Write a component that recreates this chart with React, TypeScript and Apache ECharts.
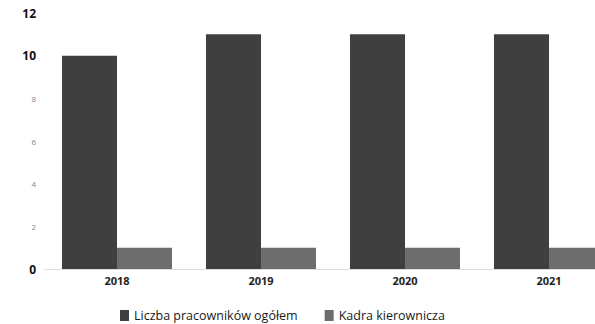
import React, { useEffect, useRef } from "react";
import * as echarts from "echarts";

const categories = ["2018", "2019", "2020", "2021"];
const totalEmployees = [10, 11, 11, 11];
const management = [1, 1, 1, 1];
const seriesNames = ["Liczba pracowników ogółem", "Kadra kierownicza"];

export default function App() {
  const ref = useRef<HTMLDivElement>(null);
  useEffect(() => {
    document.body.style.margin = "0";
    const chart = echarts.init(ref.current!, null, { renderer: "svg" });
    chart.setOption({
      animation: false,
      backgroundColor: "#ffffff",
      textStyle: { fontFamily: "Open Sans" },
      grid: {
        left: 45,
        top: 13,
        right: -26,
        bottom: 55,
        containLabel: false,
        outerBoundsMode: "none",
      },
      legend: {
        top: 304,
        left: 115,
        itemWidth: 9,
        itemHeight: 11,
        itemGap: 27,
        icon: "rect",
        textStyle: { fontSize: 12.5, color: "#1a1a1a", fontFamily: "Open Sans" },
        data: seriesNames,
      },
      xAxis: {
        type: "category",
        data: categories,
        axisLine: { show: true, lineStyle: { color: "#dddddd" } },
        axisTick: { show: false },
        axisLabel: { fontSize: 11, color: "#222", fontWeight: "bold", margin: 6 },
      },
      yAxis: {
        type: "value",
        min: 0,
        max: 12,
        interval: 2,
        splitLine: { show: false },
        axisLine: { show: false },
        axisTick: { show: false },
        axisLabel: {
          margin: 9,
          formatter: (v: number) =>
            v === 0 || v >= 10 ? `{b|${v}}` : `{f|${v}}`,
          rich: {
            b: { fontSize: 12, fontWeight: "bold", color: "#111" },
            f: { fontSize: 8, color: "#888" },
          },
        },
      },
      series: [
        {
          name: seriesNames[0],
          type: "bar",
          data: totalEmployees,
          barGap: "0%",
          barCategoryGap: "23.6%",
          itemStyle: { color: "#3f3f3f" },
        },
        {
          name: seriesNames[1],
          type: "bar",
          data: management,
          itemStyle: { color: "#6d6d6d" },
        },
      ],
    });
    return () => chart.dispose();
  }, []);
  return <div ref={ref} style={{ width: 595, height: 324 }} />;
}
